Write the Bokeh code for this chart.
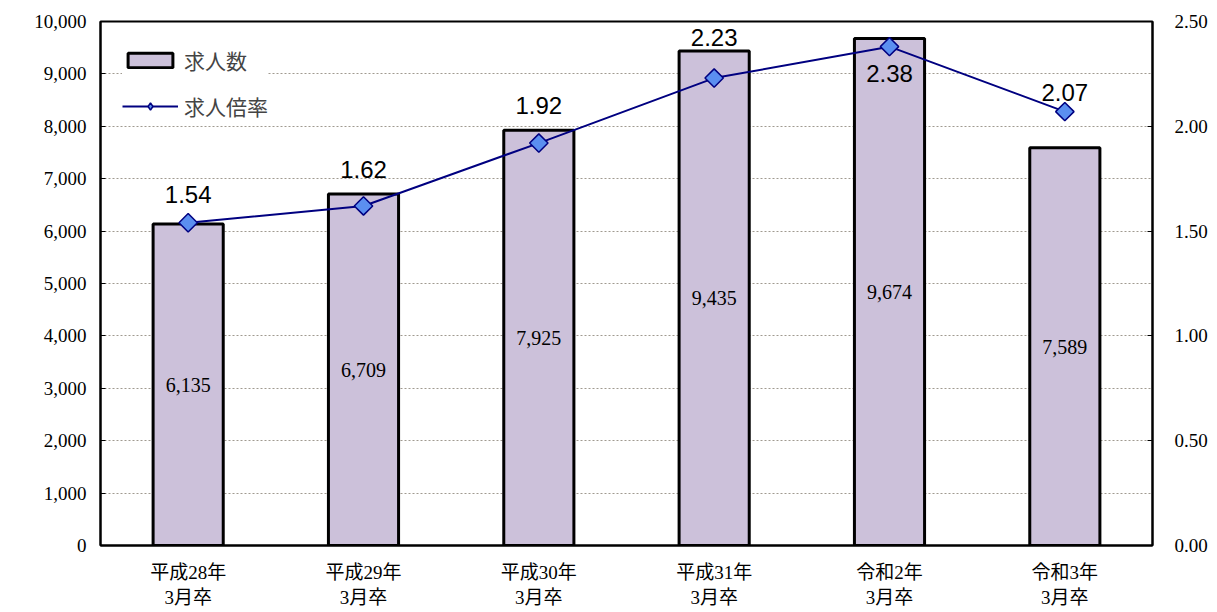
import math
from bokeh.plotting import figure
from bokeh.models import (ColumnDataSource, Range1d, LinearAxis, FactorRange,
                          NumeralTickFormatter, FixedTicker, Legend, LegendItem)
from bokeh.embed import file_html
from bokeh.resources import INLINE
from bokeh.core.properties import value

categories = ["平成28年\n3月卒", "平成29年\n3月卒", "平成30年\n3月卒",
              "平成31年\n3月卒", "令和2年\n3月卒", "令和3年\n3月卒"]
job_offers = [6135, 6709, 7925, 9435, 9674, 7589]
offer_ratio = [1.54, 1.62, 1.92, 2.23, 2.38, 2.07]
offer_labels = ["6,135", "6,709", "7,925", "9,435", "9,674", "7,589"]
ratio_labels = ["1.54", "1.62", "1.92", "2.23", "2.38", "2.07"]
left_ticks = [0, 1000, 2000, 3000, 4000, 5000, 6000, 7000, 8000, 9000, 10000]
right_ticks = [0, 0.5, 1.0, 1.5, 2.0, 2.5]

# pixel offsets for rate labels (styling)
ratio_label_dy = [-28, -36, -38, -41, 27, -19]

src = ColumnDataSource(dict(
    cat=categories, offers=job_offers, mid=[v / 2 for v in job_offers],
    olab=offer_labels, ratio=offer_ratio, rlab=ratio_labels, dy=ratio_label_dy))

serif = "Liberation Serif, Noto Sans CJK JP"
cjk = "Noto Sans CJK JP"

p = figure(width=1215, height=610, x_range=FactorRange(*categories),
           y_range=Range1d(0, 10000), output_backend="svg", toolbar_location=None,
           min_border_left=100, min_border_right=63, min_border_top=21, min_border_bottom=64)
p.extra_y_ranges = {"rate": Range1d(0, 2.5)}
p.x_range.range_padding = 0
p.x_range.factor_padding = 0

p.background_fill_color = "white"
p.outline_line_color = "black"
p.outline_line_width = 2

p.xgrid.visible = False
p.ygrid.ticker = FixedTicker(ticks=left_ticks)
p.ygrid.grid_line_color = "#A09A90"
p.ygrid.grid_line_dash = "2 2"
p.ygrid.grid_line_width = 1

bars = p.vbar(x="cat", top="offers", width=0.4, source=src,
              fill_color="#CCC1DA", line_color="black", line_width=3)
p.text(x="cat", y="mid", text="olab", source=src, text_align="center",
       text_baseline="middle", text_font=value(serif), text_font_size="20px",
       text_color="black")

ln = p.line(x="cat", y="ratio", source=src, y_range_name="rate",
            line_color="#000080", line_width=2)
# diamond used for the legend swatch; hidden under the rotated squares
leg_pts = p.scatter(x="cat", y="ratio", source=src, y_range_name="rate",
                    marker="diamond", size=16, fill_color="#5B8FF0",
                    line_color="#000080", line_width=1.5)
pts = p.scatter(x="cat", y="ratio", source=src, y_range_name="rate", marker="square",
                angle=math.pi / 4, size=13, fill_color="#5B8FF0",
                line_color="#000080", line_width=1.5)
p.text(x="cat", y="ratio", text="rlab", y_offset="dy", source=src, y_range_name="rate",
       text_align="center", text_baseline="middle", text_font=value("Liberation Sans"),
       text_font_size="24px", text_color="black")

# left axis
ya = p.yaxis[0]
ya.ticker = FixedTicker(ticks=left_ticks)
ya.formatter = NumeralTickFormatter(format="0,0")
ya.major_label_text_font = serif
ya.major_label_text_font_size = "19px"
ya.major_label_text_color = "black"
ya.axis_line_color = "black"
ya.axis_line_width = 2
ya.major_tick_in = 5
ya.major_tick_out = 0
ya.minor_tick_line_color = None
ya.major_label_standoff = 14

# right axis
ra = LinearAxis(y_range_name="rate", ticker=FixedTicker(ticks=right_ticks),
                formatter=NumeralTickFormatter(format="0.00"))
ra.major_label_text_font = serif
ra.major_label_text_font_size = "19px"
ra.major_label_text_color = "black"
ra.axis_line_color = "black"
ra.axis_line_width = 2
ra.major_tick_in = 5
ra.major_tick_out = 0
ra.minor_tick_line_color = None
ra.major_label_standoff = 22
p.add_layout(ra, "right")

xa = p.xaxis[0]
xa.major_label_text_font = serif
xa.major_label_text_font_size = "19px"
xa.major_label_text_color = "black"
xa.axis_line_color = "black"
xa.axis_line_width = 2
xa.major_tick_line_color = None
xa.major_label_standoff = 10

legend = Legend(items=[LegendItem(label="求人数", renderers=[bars]),
                       LegendItem(label="求人倍率", renderers=[ln, leg_pts])],
                location=(22, 424), background_fill_color="white",
                background_fill_alpha=1, border_line_color=None,
                label_text_font=cjk, label_text_font_size="21px",
                glyph_width=56, glyph_height=18, spacing=16, padding=8,
                label_standoff=6)
p.add_layout(legend, "center")

open("out.html", "w").write(file_html(p, INLINE))
